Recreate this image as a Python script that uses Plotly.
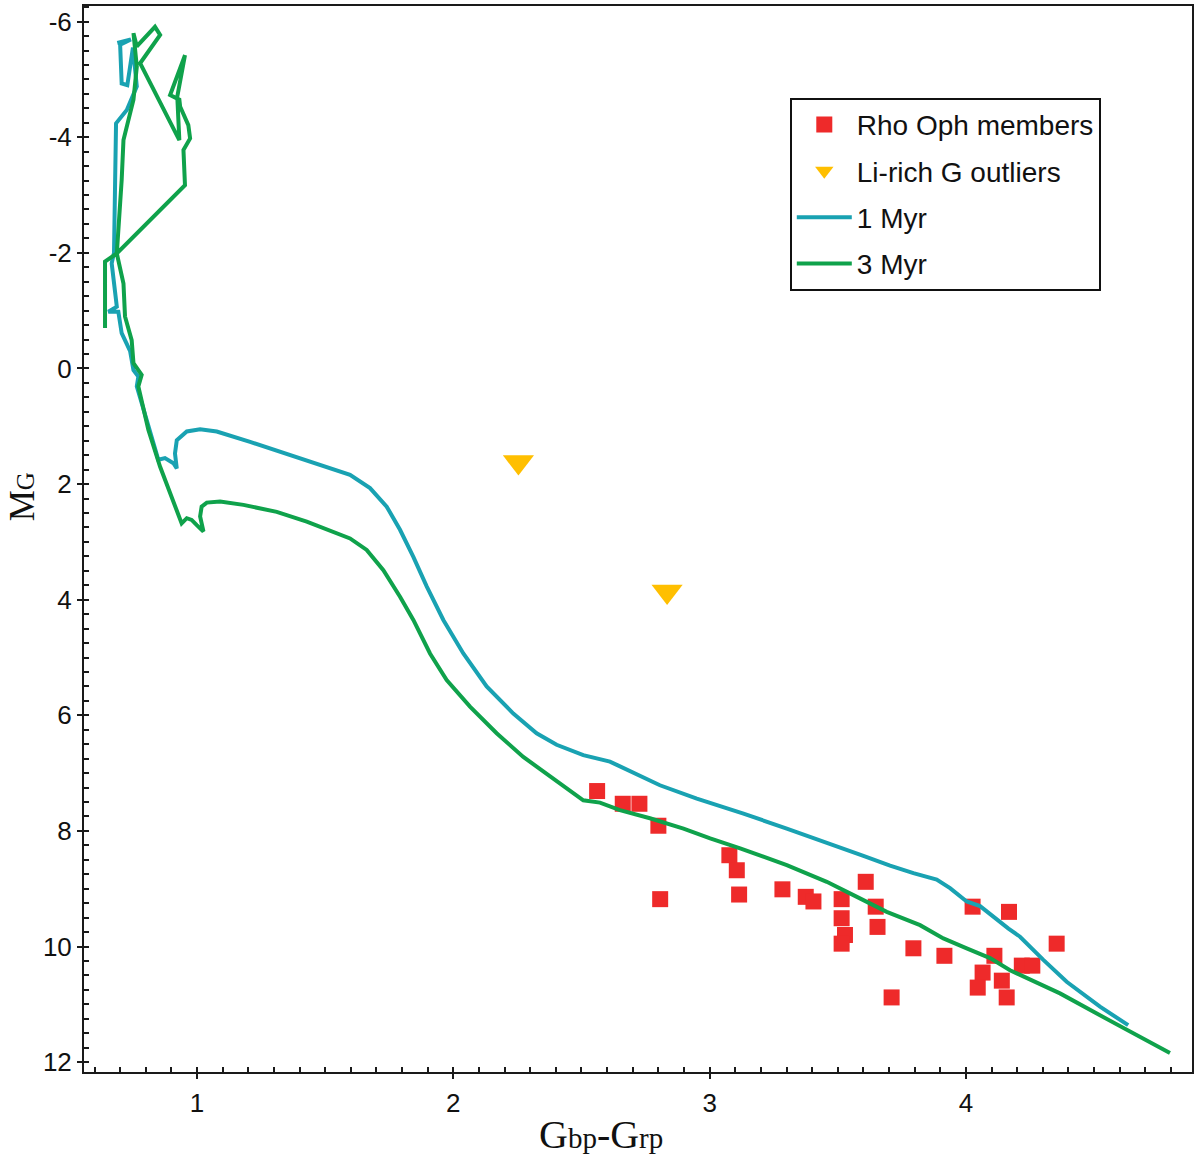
import plotly.graph_objects as go

# Rho Oph members: colour index and absolute G magnitude
members_color = [2.561, 2.661, 2.726, 2.800, 2.807, 3.077, 3.106, 3.115, 3.284, 3.375,
                 3.405, 3.515, 3.515, 3.528, 3.515, 3.609, 3.648, 3.655, 3.795, 3.710,
                 3.916, 4.026, 4.168, 4.354, 4.111, 4.065, 4.046, 4.140, 4.159, 4.218, 4.259]
members_mag = [7.31, 7.53, 7.53, 7.91, 9.18, 8.42, 8.68, 9.10, 9.01, 9.14,
               9.22, 9.18, 9.51, 9.80, 9.95, 8.88, 9.31, 9.66, 10.03, 10.88,
               10.16, 9.31, 9.40, 9.95, 10.16, 10.45, 10.71, 10.59, 10.88, 10.33, 10.33]

# Li-rich G outliers
outlier_color = [2.254, 2.834]
outlier_mag = [1.62, 3.86]

# 1 Myr isochrone
iso1_color = [0.689, 0.742, 0.700, 0.706, 0.728, 0.750, 0.765, 0.726, 0.684, 0.680,
              0.676, 0.667, 0.687, 0.654, 0.693, 0.706, 0.739, 0.752, 0.771, 0.765,
              0.849, 0.875, 0.908, 0.921, 0.914, 0.921, 0.960, 1.012, 1.077, 1.207,
              1.363, 1.493, 1.597, 1.675, 1.740, 1.792, 1.844, 1.896, 1.961, 2.039,
              2.130, 2.234, 2.325, 2.403, 2.507, 2.611, 2.702, 2.806, 2.950, 3.132,
              3.301, 3.457, 3.600, 3.704, 3.795, 3.886, 3.938, 4.003, 4.055, 4.166,
              4.211, 4.302, 4.393, 4.523, 4.633]
iso1_mag = [-5.63, -5.69, -5.60, -4.93, -4.90, -5.55, -4.88, -4.47, -4.24, -3.26,
            -2.00, -1.82, -1.07, -0.98, -0.98, -0.61, -0.30, 0.03, 0.14, 0.31,
            1.58, 1.55, 1.64, 1.73, 1.47, 1.24, 1.09, 1.05, 1.09, 1.27,
            1.50, 1.70, 1.84, 2.07, 2.39, 2.79, 3.26, 3.77, 4.35, 4.93,
            5.50, 5.97, 6.31, 6.51, 6.69, 6.80, 7.00, 7.21, 7.44, 7.70,
            7.96, 8.20, 8.43, 8.60, 8.73, 8.84, 8.99, 9.22, 9.30, 9.69,
            9.83, 10.23, 10.61, 11.04, 11.36]

# 3 Myr isochrone
iso3_color = [0.641, 0.641, 0.687, 0.953, 0.947, 0.973, 0.966, 0.934, 0.931, 0.895,
              0.953, 0.923, 0.931, 0.778, 0.856, 0.836, 0.765, 0.752, 0.765, 0.752,
              0.713, 0.706, 0.687, 0.713, 0.719, 0.739, 0.745, 0.752, 0.784, 0.771,
              0.810, 0.856, 0.901, 0.940, 0.960, 0.979, 0.999, 1.025, 1.012, 1.018,
              1.038, 1.090, 1.181, 1.311, 1.428, 1.545, 1.597, 1.662, 1.727, 1.792,
              1.844, 1.909, 1.974, 2.065, 2.169, 2.273, 2.377, 2.507, 2.572, 2.650,
              2.767, 2.898, 3.002, 3.119, 3.301, 3.457, 3.561, 3.691, 3.821, 3.912,
              4.003, 4.094, 4.172, 4.250, 4.367, 4.523, 4.796]
iso3_mag = [-0.70, -1.85, -1.99, -3.17, -3.78, -3.98, -4.21, -4.53, -4.65, -4.73,
            -5.42, -4.70, -3.95, -5.28, -5.77, -5.91, -5.57, -5.80, -5.22, -4.65,
            -3.95, -3.26, -1.99, -1.47, -0.90, -0.55, -0.49, -0.09, 0.11, 0.31,
            1.06, 1.70, 2.22, 2.68, 2.59, 2.62, 2.71, 2.82, 2.56, 2.39,
            2.32, 2.30, 2.36, 2.48, 2.65, 2.85, 2.94, 3.14, 3.49, 3.95,
            4.35, 4.93, 5.39, 5.85, 6.31, 6.72, 7.06, 7.47, 7.51, 7.64,
            7.78, 7.96, 8.13, 8.30, 8.59, 8.88, 9.11, 9.40, 9.63, 9.86,
            10.03, 10.20, 10.41, 10.57, 10.81, 11.19, 11.84]

x_ticks = [1, 2, 3, 4]
y_ticks = [-6, -4, -2, 0, 2, 4, 6, 8, 10, 12]
y_ticktext = ["-6", "-4", "-2", "0", "2", "4", "6", "8", "10", "12"]

RED = "#EE2A2A"
GOLD = "#FFBF00"
TEAL = "#19A2B2"
GREEN = "#0FA24B"
INK = "#1a1a1a"

fig = go.Figure()

fig.add_trace(go.Scatter(x=members_color, y=members_mag, mode="markers", name="Rho Oph members",
                         marker=dict(symbol="square", size=16, color=RED),
                         legendgroup="a", legendrank=1))
fig.add_trace(go.Scatter(x=outlier_color, y=outlier_mag, mode="markers", name="Li-rich G outliers",
                         marker=dict(symbol="triangle-down", size=27, color=GOLD),
                         legendgroup="b", legendrank=2))
fig.add_trace(go.Scatter(x=iso1_color, y=iso1_mag, mode="lines", name="1 Myr",
                         line=dict(color=TEAL, width=4),
                         legendgroup="c", legendrank=3))
fig.add_trace(go.Scatter(x=iso3_color, y=iso3_mag, mode="lines", name="3 Myr",
                         line=dict(color=GREEN, width=4),
                         legendgroup="d", legendrank=4))

axis_common = dict(showgrid=False, zeroline=False, showline=True, linecolor=INK,
                   linewidth=2, mirror=True, ticks="outside", ticklen=5, tickwidth=2,
                   tickcolor=INK, automargin=False,
                   tickfont=dict(family="Liberation Sans, Arial", size=26, color="#111"))

fig.update_xaxes(range=[0.559, 4.882], tickvals=x_ticks, ticklabelstandoff=2,
                 minor=dict(dtick=0.1, ticks="inside", ticklen=5, tickwidth=2, tickcolor=INK),
                 **axis_common)
fig.update_yaxes(range=[12.17, -6.27], tickvals=y_ticks, ticktext=y_ticktext,
                 minor=dict(dtick=0.25, ticks="inside", ticklen=5, tickwidth=2, tickcolor=INK),
                 **axis_common)

# axis titles
fig.add_annotation(text="M<span style='font-size:25px'>G</span>", textangle=-90,
                   xref="paper", yref="paper", x=-0.056, y=0.540, xanchor="center",
                   showarrow=False,
                   font=dict(family="Liberation Serif, Times New Roman", size=35, color="#111"))
fig.add_annotation(text="G<span style='font-size:29px'>bp</span>-G<span style='font-size:29px'>rp</span>",
                   xref="paper", yref="paper", x=0.4666, y=-0.082, showarrow=False,
                   font=dict(family="Liberation Serif, Times New Roman", size=40, color="#111"))

fig.update_layout(
    width=1200, height=1163,
    margin=dict(l=84, r=8, t=6, b=91),
    paper_bgcolor="white", plot_bgcolor="white",
    legend=dict(x=0.637, y=0.914, xanchor="left", yanchor="top",
                bordercolor="#111", borderwidth=2, bgcolor="white",
                tracegroupgap=7, itemwidth=55,
                font=dict(family="Liberation Sans, Arial", size=28, color="#111")),
)

fig.write_html("out.html", config={"displayModeBar": False},
               post_script="document.body.style.margin='0';")
